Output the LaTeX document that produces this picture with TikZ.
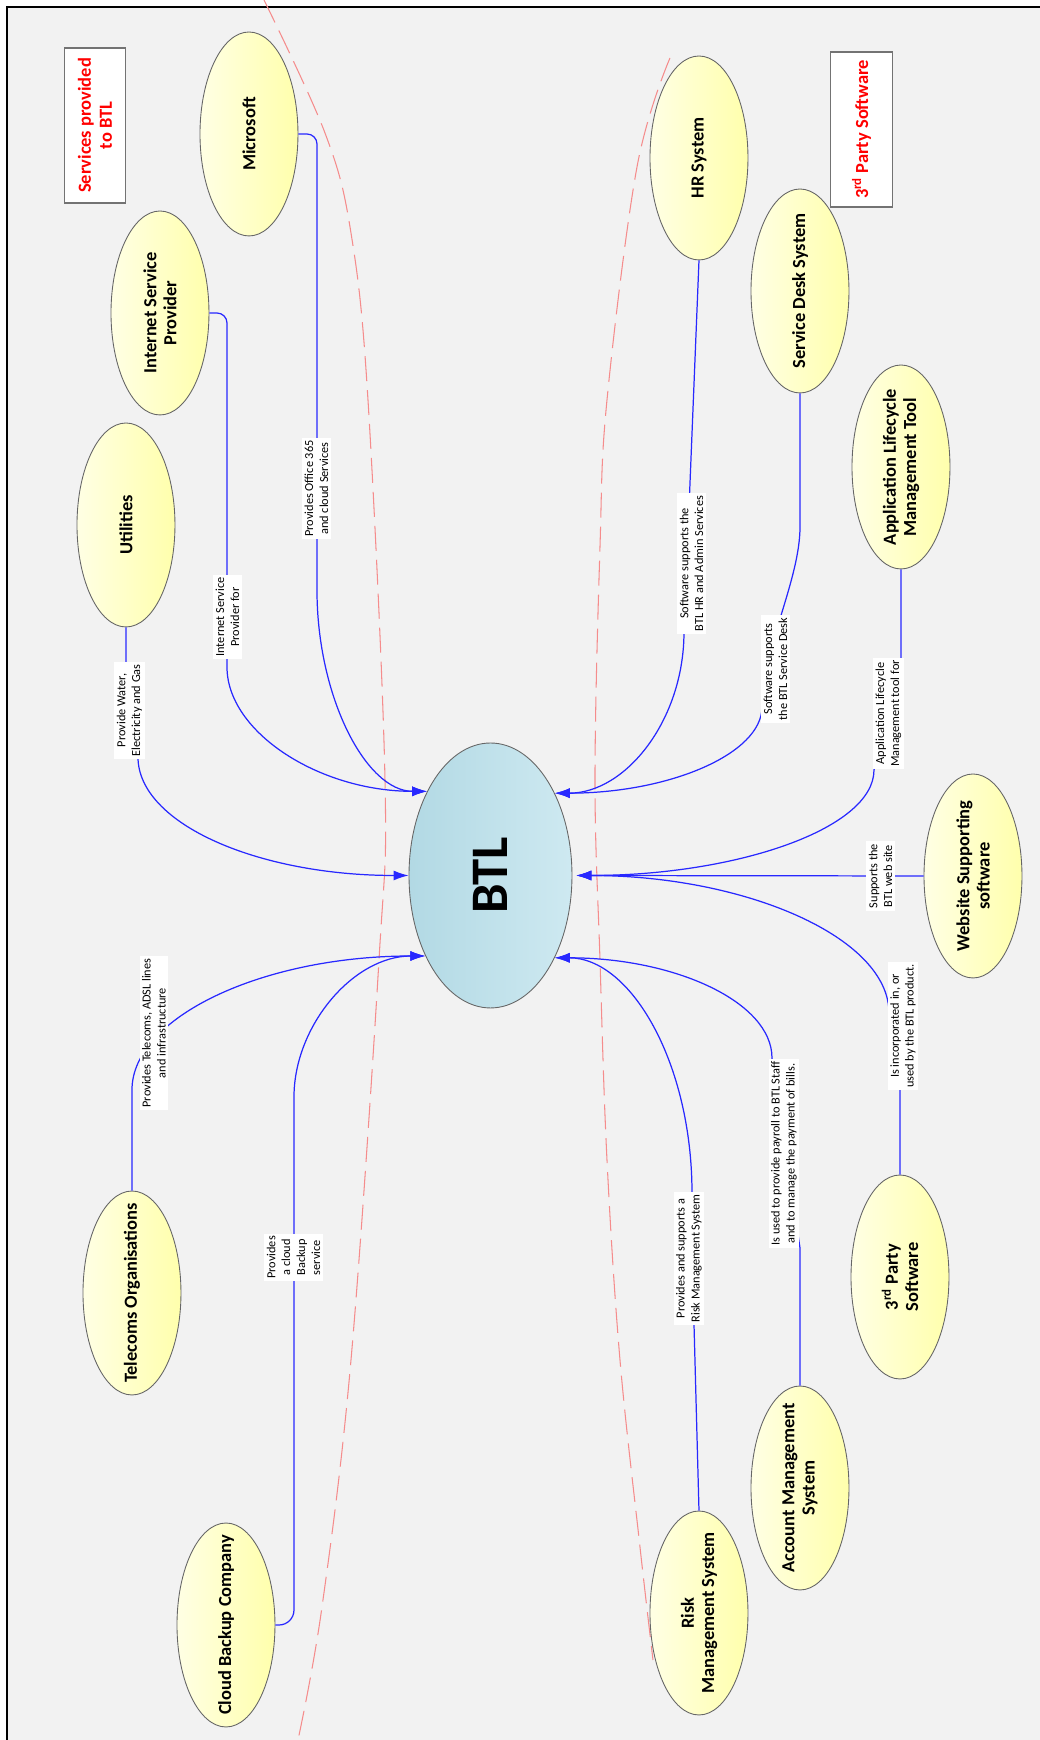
\documentclass[tikz,border=0pt]{standalone}
\usepackage{fontspec}
\setmainfont{Carlito}
\usetikzlibrary{arrows.meta,shapes.geometric}
\definecolor{pale}{RGB}{255,255,228}
\definecolor{butter}{RGB}{255,255,172}
\definecolor{skydark}{RGB}{178,217,228}
\definecolor{skylight}{RGB}{206,233,241}
\definecolor{sheet}{RGB}{242,242,242}
\definecolor{wire}{RGB}{40,40,255}
\definecolor{fencered}{RGB}{245,140,140}
\tikzset{
	%Define style for the outer parties
	party/.style={
		ellipse,
		draw=black!60, line width=0.5pt,
		left color=pale, right color=butter,
		minimum width=4.08cm, minimum height=1.96cm,
		inner xsep=-0.6cm, inner ysep=0pt,
		align=center,
		font=\fontsize{10.5}{11.5}\selectfont\bfseries},
	%Define style for the centre
	core/.style={
		ellipse,
		draw=black!60, line width=0.5pt,
		left color=skydark, right color=skylight,
		minimum width=5.3cm, minimum height=3.26cm,
		font=\fontsize{30}{36}\selectfont\bfseries},
	%Define style for the headings
	note/.style={
		rectangle,
		draw=black!55, line width=0.8pt, fill=white,
		minimum width=3.1cm, minimum height=1.23cm,
		align=center, text=red,
		font=\fontsize{10.5}{12}\selectfont\bfseries},
	tag/.style={
		fill=white, inner xsep=1.5pt, inner ysep=1.5pt,
		align=center, font=\fontsize{7}{8.5}\selectfont},
	link/.style={
		draw=wire, line width=0.7pt,
		-{Latex[length=0.3cm,width=0.2cm]}},
	fence/.style={
		draw=fencered, line width=0.6pt,
		dash pattern=on 0.5cm off 0.18cm}
}

\begin{document}
\begin{tikzpicture}[x=0.02cm, y=0.02cm, rotate=90, transform shape]
	\useasboundingbox (0,0) rectangle (1740,1040);
	\fill[sheet] (0,0) rectangle (1733,1033);
	\draw[line width=0.04cm] (0,1033) -- (1733,1033) -- (1733,0);

	% boundaries
	\draw[fence] plot[smooth, tension=0.6] coordinates {(1740,776) (1607,715) (1507,689) (1340,672) (960,655) (780,661) (380,689) (133,718) (0,742)};
	\draw[fence] plot[smooth, tension=0.6] coordinates {(1682,370) (1573,403) (1340,433) (1193,440) (960,445) (780,440) (580,433) (380,420) (193,400) (80,387)};

	\node[core] (btl) at (864.5,549.5) {BTL};

	% services provided to BTL
	\node[party] (ms) at (1606,791) {Microsoft};
	\node[party] (isp) at (1427,880) {Internet Service\\Provider};
	\node[party] (util) at (1215,914) {Utilities};
	\node[party] (tel) at (447,908) {Telecoms Organisations};
	\node[party] (cb) at (115,814) {Cloud Backup Company};

	% 3rd party software
	\node[party] (hr) at (1582,341) {HR System};
	\node[party] (sd) at (1449,240) {Service Desk System};
	\node[party] (alm) at (1273,139) {Application Lifecycle\\Management Tool};
	\node[party] (web) at (864,67) {Website Supporting\\software};
	\node[party] (tp) at (463,140) {3\textsuperscript{rd} Party\\Software};
	\node[party] (am) at (252,240) {Account Management\\System};
	\node[party] (rm) at (127,341) {Risk\\Management System};

	\node[note] (svc) at (1614.5,945) {Services provided\\to BTL};
	\node[note] (thp) at (1610.5,178.5) {3\textsuperscript{rd} Party Software};

	\draw[link, rounded corners=0.2cm] (ms.south) |- (1160,723) .. controls +(-117,0) and +(0,61) .. (btl.37);
	\draw[link, rounded corners=0.2cm] (isp.south) |- (1083,813) .. controls +(-75,0) and +(0,108) .. (btl.37);
	\draw[link] (util.west) -- (1010,914) -- (983,902) .. controls +(-67,0) and +(0,150) .. (btl.north);
	\draw[link] (tel.east) -- (650,908) .. controls +(73,0) and +(0,162) .. (btl.141);
	\draw[link, rounded corners=0.3cm] (cb.south) |- (628,746) .. controls +(86,0) and +(0,72) .. (btl.141);

	\draw[link] (hr.west) -- (1108,356) .. controls +(-88,0) and +(0,-71) .. (btl.322);
	\draw[link] (sd.west) -- (1213,240) .. controls (1160,240) and (1090,278) .. (1033,278) .. controls +(-47,0) and +(0,-114) .. (btl.322);
	\draw[link, shorten >=0.08cm] (alm.west) -- (1080,139) -- (970,166) .. controls +(-59,0) and +(0,-163) .. (btl.south);
	\draw[link, shorten >=0.08cm] (web.north) -- (btl.south);
	\draw[link, shorten >=0.08cm] (tp.east) -- (690,140) -- (727,151) .. controls +(76,0) and +(0,-172) .. (btl.south);
	\draw[link] (am.east) -- (492,240) -- (682,268) .. controls +(56,0) and +(0,-120) .. (btl.218);
	\draw[link] (rm.east) -- (416,346) -- (547,348) .. controls +(130,0) and +(0,-76) .. (btl.218);

	% connector labels
	\node[tag] (l-ms) at (1251.5,723.5) {Provides Office 365\\and cloud Services};
	\node[tag] (l-isp) at (1123,812.5) {Internet Service\\Provider for};
	\node[tag] (l-util) at (1029.5,910.5) {Provide Water,\\Electricity and Gas};
	\node[tag] (l-tel) at (707,886) {Provides Telecoms, ADSL lines\\and infrastructure};
	\node[tag] (l-cb) at (482.5,746.5) {Provides\\a cloud\\Backup\\service};
	\node[tag] (l-hr) at (1176.5,348.5) {Software supports the\\BTL HR and Admin Services};
	\node[tag] (l-sd) at (1071,264.5) {Software supports\\the BTL Service Desk};
	\node[tag] (l-alm) at (1026.5,151.5) {Application Lifecycle\\Management tool for};
	\node[tag] (l-web) at (864,159.5) {Supports the\\BTL web site};
	\node[tag] (l-tp) at (714,137) {Is incorporated in, or\\used by the BTL product.};
	\node[tag] (l-am) at (586.5,256) {Is used to provide payroll to BTL Staff\\and to manage the payment of bills.};
	\node[tag] (l-rm) at (481.5,351) {Provides and supports a\\Risk Management System};
\end{tikzpicture}
\end{document}
